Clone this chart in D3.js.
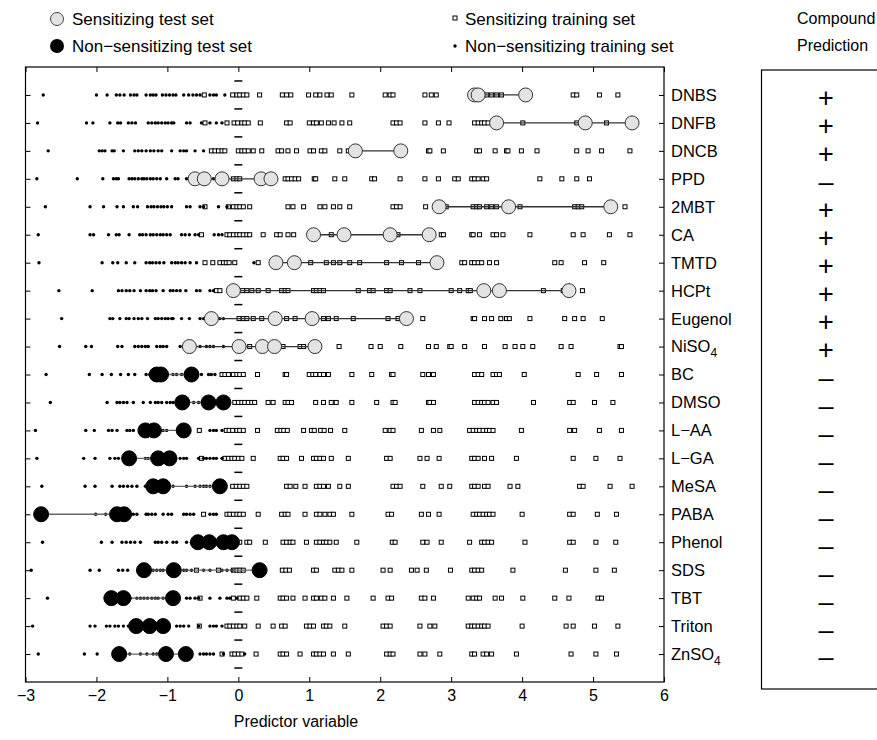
<!DOCTYPE html>
<html>
<head>
<meta charset="utf-8">
<script src="https://cdn.jsdelivr.net/npm/d3@7"></script>
<style>
  body { margin: 0; background: #fff; }
  svg text { font-family: "Liberation Sans", Arial, Helvetica, sans-serif; fill: #000; }
</style>
</head>
<body>
<div id="chart"></div>
<script>
// compounds, top to bottom
const compounds = ["DNBS", "DNFB", "DNCB", "PPD", "2MBT", "CA", "TMTD", "HCPt", "Eugenol", "NiSO4",
	"BC", "DMSO", "L-AA", "L-GA", "MeSA", "PABA", "Phenol", "SDS", "TBT", "Triton", "ZnSO4"];
const predictions = ["+", "+", "+", "-", "+", "+", "+", "+", "+", "+",
	"-", "-", "-", "-", "-", "-", "-", "-", "-", "-", "-"];
// sensitizing test compounds are the first 10 (open circles), the rest non-sensitizing (filled)
const sensitizingTest = [true, true, true, true, true, true, true, true, true, true,
	false, false, false, false, false, false, false, false, false, false, false];

const testValues = [
	[3.33, 3.38, 4.05],
	[3.64, 4.89, 5.55],
	[1.65, 2.29],
	[-0.61, -0.48, -0.23, 0.32, 0.46],
	[2.83, 3.81, 5.25],
	[1.06, 1.49, 2.14, 2.69],
	[0.53, 0.79, 2.80],
	[-0.07, 3.46, 3.68, 4.66],
	[-0.38, 0.52, 1.04, 2.37],
	[-0.69, 0.01, 0.34, 0.51, 1.08],
	[-1.15, -1.09, -0.66],
	[-0.79, -0.42, -0.21],
	[-1.31, -1.19, -0.77],
	[-1.54, -1.13, -0.97],
	[-1.20, -1.06, -0.26],
	[-2.78, -1.71, -1.61],
	[-0.57, -0.41, -0.21, -0.09],
	[-1.33, -0.91, 0.30],
	[-1.79, -1.62, -0.92],
	[-1.44, -1.25, -1.06],
	[-1.68, -1.02, -0.74]
];

// non-sensitizing training set (dots), one list per model row
const trainNonSens = [
	[-2.75, -2.0, -1.85, -1.72, -1.67, -1.61, -1.52, -1.47, -1.43, -1.30, -1.24, -1.20, -1.16, -1.07, -1.02, -0.97, -0.92, -0.88, -0.77, -0.70, -0.64, -0.59, -0.54, -0.40, -0.35, -0.31, -0.19],
	[-2.83, -2.14, -2.05, -1.81, -1.70, -1.66, -1.55, -1.50, -1.45, -1.27, -1.22, -1.17, -1.13, -1.08, -1.03, -0.99, -0.94, -0.91, -0.73, -0.68, -0.52, -0.40, -0.31, -0.23],
	[-2.68, -1.96, -1.92, -1.88, -1.78, -1.75, -1.62, -1.46, -1.41, -1.36, -1.30, -1.24, -1.19, -1.13, -1.08, -0.94, -0.82, -0.77, -0.73, -0.61, -0.49],
	[-2.84, -2.27, -1.91, -1.76, -1.72, -1.69, -1.54, -1.50, -1.46, -1.41, -1.36, -1.33, -1.29, -1.24, -1.20, -1.15, -1.10, -1.01, -0.89, -0.85, -0.73, -0.35],
	[-2.72, -2.09, -1.90, -1.71, -1.62, -1.48, -1.42, -1.28, -1.23, -1.19, -1.14, -1.09, -1.05, -1.0, -0.94, -0.73, -0.68, -0.54, -0.49, -0.28, -0.16],
	[-2.82, -2.09, -2.04, -1.83, -1.72, -1.68, -1.54, -1.39, -1.35, -1.30, -1.24, -1.20, -1.15, -1.10, -1.06, -1.01, -0.96, -0.80, -0.75, -0.69, -0.61, -0.56, -0.34, -0.28, -0.23],
	[-2.81, -1.92, -1.77, -1.70, -1.58, -1.46, -1.30, -1.25, -1.21, -1.16, -1.11, -1.05, -0.94, -0.89, -0.85, -0.80, -0.75, -0.68, -0.59, 0.22],
	[-2.53, -2.06, -1.69, -1.64, -1.58, -1.53, -1.47, -1.38, -1.30, -1.25, -1.21, -1.16, -1.06, -0.96, -0.92, -0.87, -0.82, -0.74, -0.59, -0.54, -0.40, -0.35],
	[-2.49, -1.81, -1.77, -1.67, -1.58, -1.54, -1.47, -1.41, -1.36, -1.28, -1.17, -1.13, -1.08, -1.03, -0.99, -0.94, -0.92, -0.80, -0.69, -0.54, -0.49, -0.31, -0.26, -0.21],
	[-2.52, -2.15, -2.07, -1.70, -1.64, -1.46, -1.41, -1.36, -1.31, -1.27, -1.15, -1.10, -1.06, -1.01, -0.82, -0.77, -0.54, -0.45, -0.40, -0.35, -0.21],
	[-2.71, -2.10, -1.92, -1.79, -1.66, -1.55, -1.46, -1.30, -1.25, -1.20, -0.92, -0.87, -0.80, -0.73, -0.52, -0.42, -0.38, -0.33],
	[-2.65, -1.85, -1.71, -1.67, -1.62, -1.57, -1.48, -1.34, -1.24, -1.17, -1.13, -1.08, -1.01, -0.96, -0.92, -0.63, -0.56, -0.49, -0.33],
	[-2.86, -2.15, -2.03, -1.83, -1.78, -1.71, -1.57, -1.53, -1.48, -1.10, -1.06, -1.01, -0.70, -0.40, -0.35, -0.31, -0.23],
	[-2.84, -2.18, -2.02, -1.81, -1.74, -1.69, -1.31, -1.27, -1.22, -0.82, -0.77, -0.73, -0.56, -0.49, -0.45, -0.40, -0.35, -0.31, -0.23],
	[-2.77, -2.16, -2.02, -1.78, -1.67, -1.62, -1.56, -1.50, -1.43, -1.31, -0.92, -0.73, -0.61, -0.54, -0.49, -0.45, -0.40, -0.33],
	[-2.01, -1.87, -1.48, -1.43, -1.30, -1.27, -1.22, -1.17, -1.06, -0.99, -0.94, -0.77, -0.73, -0.68, -0.63, -0.40, -0.35, -0.31],
	[-2.76, -1.93, -1.78, -1.64, -1.58, -1.52, -1.46, -1.38, -1.17, -1.13, -1.08, -1.01, -0.92, -0.87, -0.73, -0.66],
	[-2.92, -2.09, -1.96, -1.69, -1.63, -1.56, -1.41, -1.24, -1.20, -1.15, -1.10, -1.06, -0.77, -0.73, -0.66, -0.49, -0.40, -0.23, -0.16, -0.09],
	[-2.69, -1.52, -1.43, -1.38, -1.33, -1.28, -1.22, -1.17, -1.13, -1.06, -0.87, -0.73, -0.68, -0.61, -0.56, -0.40, -0.26, -0.16, -0.12, -0.02],
	[-2.90, -2.09, -2.02, -1.86, -1.81, -1.74, -1.69, -1.62, -1.55, -0.87, -0.82, -0.77, -0.70, -0.56, -0.40, -0.35, -0.31, -0.23],
	[-2.82, -2.17, -1.99, -1.76, -1.53, -1.38, -1.29, -1.20, -1.15, -0.54, -0.49, -0.45, -0.40, -0.35, -0.21, 0.09]
];

// sensitizing training set (small squares), one list per model row
const trainSens = [
	[-0.48, -0.08, -0.02, 0.02, 0.07, 0.12, 0.30, 0.62, 0.68, 0.74, 0.99, 1.09, 1.15, 1.25, 1.31, 1.60, 2.07, 2.14, 2.18, 2.63, 2.72, 2.79, 3.40, 3.45, 3.50, 3.57, 3.64, 3.71, 4.72, 4.77, 5.09, 5.35],
	[-0.47, -0.16, -0.06, -0.01, 0.05, 0.09, 0.14, 0.31, 0.68, 0.73, 1.0, 1.06, 1.10, 1.17, 1.27, 1.35, 1.46, 1.57, 2.18, 2.23, 2.28, 2.63, 2.82, 2.97, 3.33, 3.38, 3.43, 3.47, 3.52, 4.01, 4.77, 5.19],
	[-0.38, -0.33, -0.28, -0.23, -0.19, 0, 0.05, 0.09, 0.14, 0.21, 0.33, 0.56, 0.61, 0.70, 0.82, 1.01, 1.06, 1.17, 1.22, 1.43, 1.55, 2.68, 2.70, 2.89, 3.36, 3.40, 3.62, 3.78, 3.80, 3.99, 4.21, 4.77, 4.93, 5.12, 5.52],
	[-0.07, -0.02, 0.02, 0.66, 0.70, 0.75, 0.80, 0.85, 1.07, 1.09, 1.36, 1.50, 1.88, 1.92, 2.28, 2.63, 2.82, 3.05, 3.10, 3.29, 3.33, 3.38, 3.45, 3.50, 4.25, 4.56, 4.77, 4.95],
	[-0.47, -0.14, -0.07, -0.02, 0.02, 0.07, 0.16, 0.70, 0.77, 0.92, 1.15, 1.22, 1.34, 1.43, 1.57, 2.18, 2.23, 2.28, 2.64, 2.93, 3.31, 3.36, 3.40, 3.50, 3.57, 3.64, 3.97, 4.74, 4.79, 4.84, 5.45],
	[-0.52, -0.16, -0.12, -0.07, -0.02, 0.02, 0.07, 0.12, 0.16, 0.35, 0.54, 0.59, 0.70, 0.78, 1.31, 2.25, 2.86, 2.89, 3.29, 3.31, 3.40, 3.59, 3.64, 3.73, 4.11, 4.72, 4.86, 5.23, 5.52],
	[-0.47, -0.36, -0.26, -0.21, -0.17, -0.13, -0.05, 0.28, 1.02, 1.24, 1.34, 1.43, 1.57, 1.71, 2.09, 2.30, 2.54, 3.15, 3.19, 3.29, 3.33, 3.38, 3.43, 3.54, 3.64, 4.46, 4.55, 4.88, 5.15],
	[-0.31, -0.26, 0.06, 0.12, 0.19, 0.28, 0.42, 0.61, 0.66, 0.70, 1.06, 1.10, 1.15, 1.20, 1.69, 1.85, 1.90, 2.09, 2.14, 2.42, 2.56, 3.00, 3.12, 3.24, 3.27, 3.68, 4.30, 4.58, 4.85],
	[0.01, 0.07, 0.12, 0.21, 0.33, 0.68, 0.80, 1.20, 1.27, 1.38, 1.62, 2.11, 2.25, 2.60, 3.31, 3.33, 3.47, 3.57, 3.70, 3.78, 3.82, 4.11, 4.60, 4.74, 4.86, 5.13],
	[0.16, 0.63, 0.87, 0.92, 1.13, 1.42, 1.87, 2.00, 2.29, 2.68, 2.79, 2.98, 3.00, 3.19, 3.47, 3.76, 3.90, 4.01, 4.15, 4.55, 4.69, 5.38, 5.40],
	[-0.23, -0.19, -0.14, -0.07, -0.02, 0.02, 0.07, 0.27, 0.66, 0.68, 1.0, 1.05, 1.09, 1.15, 1.20, 1.27, 1.60, 1.88, 2.16, 2.18, 2.60, 2.68, 2.75, 3.33, 3.38, 3.43, 3.59, 3.64, 3.68, 4.03, 4.79, 5.05, 5.40],
	[-0.05, 0, 0.05, 0.09, 0.14, 0.19, 0.23, 0.42, 0.49, 0.66, 0.70, 0.75, 1.09, 1.20, 1.31, 1.38, 1.60, 1.95, 2.18, 2.21, 2.68, 2.70, 2.75, 3.33, 3.38, 3.43, 3.47, 3.52, 3.59, 3.64, 4.16, 4.67, 4.72, 5.02, 5.28],
	[-0.55, -0.17, -0.13, -0.08, -0.02, 0.02, 0.07, 0.27, 0.55, 0.60, 0.64, 0.69, 0.92, 1.03, 1.07, 1.16, 1.21, 1.30, 1.50, 2.07, 2.14, 2.18, 2.58, 2.75, 2.84, 3.26, 3.31, 3.36, 3.40, 3.45, 3.50, 3.54, 3.59, 3.99, 4.67, 4.74, 5.09, 5.40],
	[-0.52, -0.19, -0.14, -0.09, -0.05, 0, 0.05, 0.21, 0.59, 0.63, 0.68, 0.89, 1.06, 1.10, 1.15, 1.20, 1.31, 1.55, 2.09, 2.14, 2.56, 2.66, 2.83, 3.29, 3.33, 3.38, 3.47, 3.57, 3.92, 4.72, 5.04, 5.38],
	[-0.08, -0.03, 0.02, 0.07, 0.12, 0.68, 0.73, 0.81, 0.94, 1.10, 1.15, 1.20, 1.27, 1.43, 1.55, 2.18, 2.23, 2.28, 2.60, 2.86, 2.98, 3.29, 3.33, 3.38, 3.47, 3.52, 3.83, 3.94, 4.81, 4.86, 5.24, 5.55],
	[-0.49, -0.16, -0.12, -0.07, -0.02, 0.02, 0.07, 0.28, 0.61, 0.66, 0.70, 0.94, 1.10, 1.15, 1.22, 1.29, 1.34, 1.60, 2.11, 2.16, 2.58, 2.68, 2.83, 3.31, 3.36, 3.40, 3.45, 3.50, 3.54, 3.59, 4.00, 4.67, 4.72, 5.06, 5.33],
	[0.02, 0.12, 0.16, 0.38, 0.63, 0.68, 0.73, 0.77, 0.96, 1.10, 1.15, 1.20, 1.24, 1.29, 1.38, 1.67, 2.17, 2.21, 2.60, 2.66, 2.86, 3.26, 3.43, 3.47, 3.52, 3.57, 4.04, 4.67, 4.72, 5.04, 5.32],
	[-0.59, -0.28, -0.07, -0.02, 0.02, 0.07, 0.62, 0.67, 0.72, 1.06, 1.10, 1.36, 1.41, 1.46, 1.60, 2.04, 2.14, 2.44, 2.52, 2.65, 2.99, 3.29, 3.33, 3.38, 3.43, 3.87, 4.61, 5.04, 5.30],
	[-0.54, -0.07, 0.02, 0.07, 0.12, 0.26, 0.59, 0.63, 0.68, 0.77, 0.94, 1.06, 1.10, 1.17, 1.22, 1.34, 1.53, 1.90, 2.11, 2.16, 2.58, 2.63, 2.75, 3.24, 3.31, 3.36, 3.40, 3.62, 3.71, 4.01, 4.46, 4.66, 5.07, 5.12],
	[-0.55, -0.16, -0.12, -0.07, -0.02, 0.02, 0.09, 0.28, 0.49, 0.61, 0.66, 0.96, 1.01, 1.06, 1.20, 1.24, 1.29, 1.50, 2.04, 2.09, 2.14, 2.56, 2.70, 2.77, 3.24, 3.29, 3.33, 3.38, 3.43, 3.47, 3.52, 4.00, 4.62, 4.72, 5.02, 5.35],
	[-0.23, -0.09, -0.05, 0, 0.05, 0.25, 0.59, 0.63, 0.68, 0.87, 1.06, 1.10, 1.15, 1.20, 1.34, 1.55, 2.09, 2.14, 2.18, 2.56, 2.63, 2.84, 3.29, 3.33, 3.45, 3.50, 3.57, 3.92, 4.69, 5.04, 5.33]
];

const xTicks = [-3, -2, -1, 0, 1, 2, 3, 4, 5, 6];

const width = 877;
const height = 740;
const plot = { left: 25.5, right: 664, top: 67, bottom: 682 };

const svg = d3.select("#chart")
	.append("svg")
	.attr("width", width)
	.attr("height", height);

const x = d3.scaleLinear().domain([-3, 6]).range([plot.left, plot.right]);
const y = d3.scaleLinear().domain([0, compounds.length + 1]).range([plot.top, plot.bottom]);
const rowY = i => y(i + 1);

// ---- axes (ticks point inwards, box all round)
const xAxisBottom = d3.axisBottom(x).tickValues(xTicks).tickSizeInner(-5).tickSizeOuter(0).tickPadding(8);
const xAxisTop = d3.axisTop(x).tickValues(xTicks).tickSizeInner(-5).tickSizeOuter(0).tickFormat("");
const rowIdx = d3.range(compounds.length);
const yAxisRight = d3.axisRight(y).tickValues(rowIdx.map(i => i + 1)).tickSizeInner(-5).tickSizeOuter(0).tickFormat("");
const yAxisLeft = d3.axisLeft(y).tickValues(rowIdx.map(i => i + 1)).tickSizeInner(-5).tickSizeOuter(0).tickFormat("");

svg.append("g").attr("class", "x axis")
	.attr("transform", "translate(0," + plot.bottom + ")")
	.call(xAxisBottom)
	.call(g => g.selectAll("text").style("font-size", "16px"));
svg.append("g").attr("transform", "translate(0," + plot.top + ")").call(xAxisTop);
svg.append("g").attr("transform", "translate(" + plot.right + ",0)").call(yAxisRight);
svg.append("g").attr("transform", "translate(" + plot.left + ",0)").call(yAxisLeft);
svg.selectAll(".domain").remove();
svg.selectAll(".tick line").attr("stroke", "#000");

// compound names with subscripts
const names = svg.append("g");
compounds.forEach((c, i) => {
	const t = names.append("text")
		.attr("x", plot.right + 7)
		.attr("y", rowY(i))
		.attr("dy", "0.36em")
		.style("font-size", "16.5px");
	const m = c.match(/^(.*?)(\d)$/);
	if (m && (c === "NiSO4" || c === "ZnSO4")) {
		t.append("tspan").text(m[1]);
		t.append("tspan").attr("dy", 5).style("font-size", "12px").text(m[2]);
	} else {
		t.text(c.replace("-", "\u2212"));
	}
});

// ---- training points
const pts = svg.append("g");
trainSens.forEach((row, i) => {
	pts.selectAll(null)
		.data(row)
		.enter().append("rect")
		.attr("x", d => x(d) - 2)
		.attr("y", rowY(i) - 2)
		.attr("width", 4)
		.attr("height", 4)
		.attr("fill", "#fff")
		.attr("stroke", "#000")
		.attr("stroke-width", 1);
});
trainNonSens.forEach((row, i) => {
	pts.selectAll(null)
		.data(row)
		.enter().append("circle")
		.attr("cx", d => x(d))
		.attr("cy", rowY(i))
		.attr("r", 1.7)
		.attr("fill", "#000");
});

// little marks along x = 0
svg.append("g").selectAll("line")
	.data(d3.range(compounds.length + 1))
	.enter().append("line")
	.attr("x1", x(0) - 4)
	.attr("x2", x(0) + 4)
	.attr("y1", d => y(d + 0.5))
	.attr("y2", d => y(d + 0.5))
	.attr("stroke", "#000")
	.attr("stroke-width", 1.5);

// ---- test compounds: range line + circles
const tests = svg.append("g");
testValues.forEach((vals, i) => {
	const open = sensitizingTest[i];
	tests.append("line")
		.attr("x1", x(d3.min(vals)))
		.attr("x2", x(d3.max(vals)))
		.attr("y1", rowY(i))
		.attr("y2", rowY(i))
		.attr("stroke", open ? "#333" : "#666")
		.attr("stroke-width", 1.3);
	tests.selectAll(null)
		.data(vals)
		.enter().append("circle")
		.attr("cx", d => x(d))
		.attr("cy", rowY(i))
		.attr("r", open ? 7 : 7.5)
		.attr("fill", open ? "#e3e3e3" : "#000")
		.attr("stroke", open ? "#333" : "#000")
		.attr("stroke-width", 1);
});

// frame
svg.append("rect")
	.attr("x", plot.left).attr("y", plot.top)
	.attr("width", plot.right - plot.left).attr("height", plot.bottom - plot.top)
	.attr("fill", "none").attr("stroke", "#000").attr("stroke-width", 1.2);

// x label
svg.append("text")
	.attr("x", 296).attr("y", 727)
	.attr("text-anchor", "middle")
	.style("font-size", "16px")
	.text("Predictor variable");

// ---- legend
const legend = svg.append("g").style("font-size", "17px");
legend.append("circle").attr("cx", 57).attr("cy", 19).attr("r", 6.5)
	.attr("fill", "#e3e3e3").attr("stroke", "#444");
legend.append("text").attr("x", 72).attr("y", 25).text("Sensitizing test set");
legend.append("circle").attr("cx", 57).attr("cy", 46).attr("r", 7).attr("fill", "#000");
legend.append("text").attr("x", 72).attr("y", 52).text("Non\u2212sensitizing test set");
legend.append("rect").attr("x", 453).attr("y", 16).attr("width", 4).attr("height", 4)
	.attr("fill", "#fff").attr("stroke", "#000");
legend.append("text").attr("x", 465).attr("y", 25).text("Sensitizing training set");
legend.append("circle").attr("cx", 455).attr("cy", 46).attr("r", 1.7).attr("fill", "#000");
legend.append("text").attr("x", 465).attr("y", 52).text("Non\u2212sensitizing training set");

// ---- prediction column
svg.append("text").attr("x", 797).attr("y", 24).style("font-size", "16px").text("Compound");
svg.append("text").attr("x", 797).attr("y", 51).style("font-size", "16px").text("Prediction");
svg.append("rect")
	.attr("x", 761.5).attr("y", 70)
	.attr("width", 140).attr("height", 619)
	.attr("fill", "none").attr("stroke", "#000").attr("stroke-width", 1.2);
svg.append("g").selectAll("text")
	.data(predictions)
	.enter().append("text")
	.attr("x", 826)
	.attr("y", (d, i) => rowY(i) + 3)
	.attr("dy", "0.35em")
	.attr("text-anchor", "middle")
	.style("font-size", "27px")
	.text(d => d === "+" ? "+" : "\u2013");
</script>
</body>
</html>
